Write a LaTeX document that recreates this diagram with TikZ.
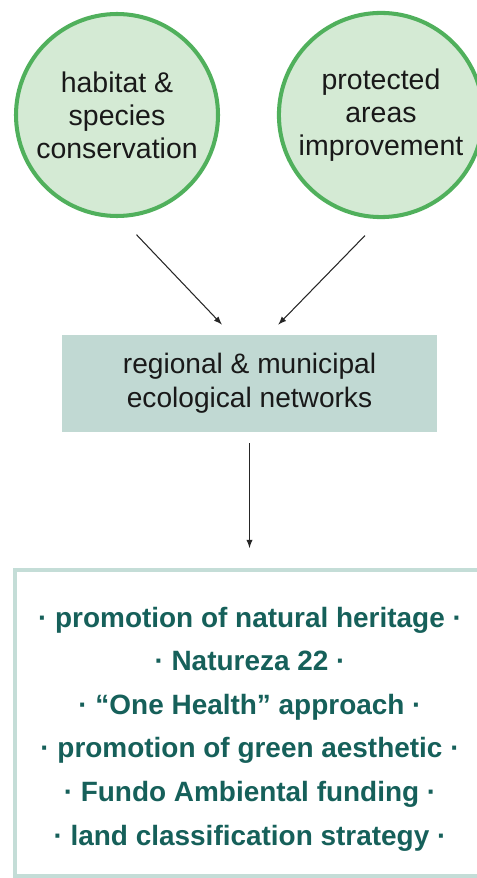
\documentclass[tikz,border=0pt]{standalone}
\usepackage{fontspec}
\setmainfont{Liberation Sans}
\usepackage{xcolor}
\usetikzlibrary{shapes.geometric, arrows, positioning, calc}

\definecolor{ringgreen}{RGB}{80,176,92}
\definecolor{palegreen}{RGB}{212,234,212}
\definecolor{netteal}{RGB}{193,217,211}
\definecolor{listedge}{RGB}{196,221,215}
\definecolor{listtext}{RGB}{22,96,90}

\begin{document}
\begin{tikzpicture}[
            goal/.style={circle, draw=ringgreen, line width=2.3pt, fill=palegreen, minimum size=4.04cm, align=center, text=black!90, font=\fontsize{16.2}{18.8}\selectfont},
            network/.style={rectangle, fill=netteal, minimum width=7.5cm, minimum height=1.94cm, align=center, text=black!90, font=\fontsize{16}{19.3}\selectfont},
            listbox/.style={rectangle, draw=listedge, line width=2.3pt, minimum width=10.4cm, minimum height=6.12cm},
            flow/.style={-latex, semithick, black!85}
        ]

            \useasboundingbox (0,0) rectangle (9.52,-17.56);

% Two aims at the top
            \node[goal] (habitat) at (2.34,-2.3) {habitat \&\\species\\conservation};
            \node[goal] (protected) at (7.62,-2.3) {protected\\areas\\improvement};

% Networks box
            \node[network] (networks) at (4.99,-7.67) {regional \& municipal\\ecological networks};

% Outcomes
            \node[listbox] (outcomes) at (5.5,-14.46) {};
            \node[font=\fontsize{15.9}{24.8}\selectfont\bfseries, text=listtext, align=center] (items) at (5.0,-14.58) {
                · promotion of natural heritage ·\\
                · Natureza 22 ·\\
                · “One Health” approach ·\\
                · promotion of green aesthetic ·\\
                · Fundo Ambiental funding ·\\
                · land classification strategy ·
            };

% Arrows
            \draw[flow, shorten <=0.46cm, shorten >=0.28cm] (habitat.-88) -- ([xshift=-0.36cm]networks.north);
            \draw[flow, shorten <=0.46cm, shorten >=0.28cm] (protected.-90) -- ([xshift=0.38cm]networks.north);
            \draw[flow, shorten <=0.22cm, shorten >=0.4cm] (networks.south) -- (networks.south |- outcomes.north);

        \end{tikzpicture}
\end{document}
